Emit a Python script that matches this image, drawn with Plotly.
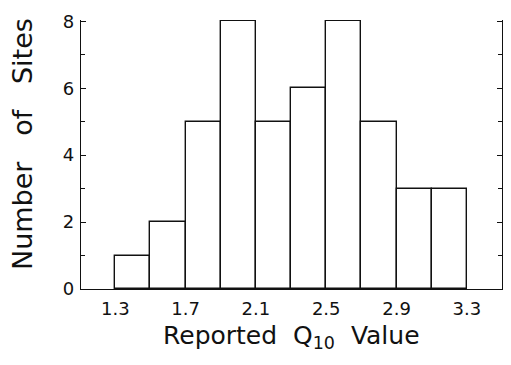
import plotly.graph_objects as go

# Histogram bins (left edges), width 0.2
bin_left = [1.3, 1.5, 1.7, 1.9, 2.1, 2.3, 2.5, 2.7, 2.9, 3.1]
counts = [1, 2, 5, 8, 5, 6, 8, 5, 3, 3]
bin_width = 0.2

x_ticks = [1.3, 1.7, 2.1, 2.5, 2.9, 3.3]
x_tick_labels = ["1.3", "1.7", "2.1", "2.5", "2.9", "3.3"]
y_ticks = [0, 2, 4, 6, 8]

x_title = "Reported\u00a0\u00a0Q<sub>10</sub>\u00a0\u00a0Value"
y_title = "Number\u00a0\u00a0\u00a0of\u00a0\u00a0\u00a0Sites"

FONT = "DejaVu Sans"
INK = "#111111"

# figure sized to fit inside the window with the page's 8px body margin
# (no scrollbars)
FIG_W, FIG_H = 495, 349
M_L, M_R, M_T, M_B = 73, 1, 12, 68
PLOT_W = FIG_W - M_L - M_R
PLOT_H = FIG_H - M_T - M_B

fig = go.Figure()
fig.add_trace(go.Bar(
    x=bin_left,
    y=counts,
    width=[bin_width] * len(bin_left),
    offset=0,
    cliponaxis=False,
    marker=dict(color="white", line=dict(color=INK, width=1.4)),
    showlegend=False,
))

fig.update_layout(
    width=FIG_W,
    height=FIG_H,
    margin=dict(l=M_L, r=M_R, t=M_T, b=M_B, autoexpand=False),
    paper_bgcolor="white",
    plot_bgcolor="white",
    font=dict(family=FONT, color=INK, size=18),
    bargap=0,
)

fig.update_xaxes(
    range=[1.105, 3.5],
    tickvals=x_ticks,
    ticktext=x_tick_labels,
    ticks="",
    showline=True,
    linecolor=INK,
    linewidth=1.4,
    showgrid=False,
    zeroline=False,
    mirror=False,
    automargin=False,
    tickfont=dict(size=18, family=FONT),
    ticklabelstandoff=3,
)

fig.update_yaxes(
    range=[0, 8.04],
    tickvals=y_ticks,
    ticks="inside",
    ticklen=5,
    tickwidth=1.2,
    tickcolor=INK,
    minor=dict(dtick=1, ticks="inside", ticklen=4, tickwidth=1.2, tickcolor=INK),
    showline=True,
    linecolor=INK,
    linewidth=1.4,
    mirror="ticks",
    showgrid=False,
    zeroline=False,
    automargin=False,
    tickfont=dict(size=18, family=FONT),
    ticklabelstandoff=2,
)

fig.add_annotation(
    text=x_title, xref="paper", yref="paper",
    x=0.501, y=-(319 - 289) / PLOT_H, xanchor="center", yanchor="top",
    showarrow=False, font=dict(size=25, family=FONT, color=INK),
)
fig.add_annotation(
    text=y_title, xref="paper", yref="paper",
    x=(22 - 81) / PLOT_W, y=(289 - 144) / PLOT_H, xanchor="center", yanchor="middle",
    textangle=-90, showarrow=False, font=dict(size=27, family=FONT, color=INK),
)

fig.write_html("out.html")
